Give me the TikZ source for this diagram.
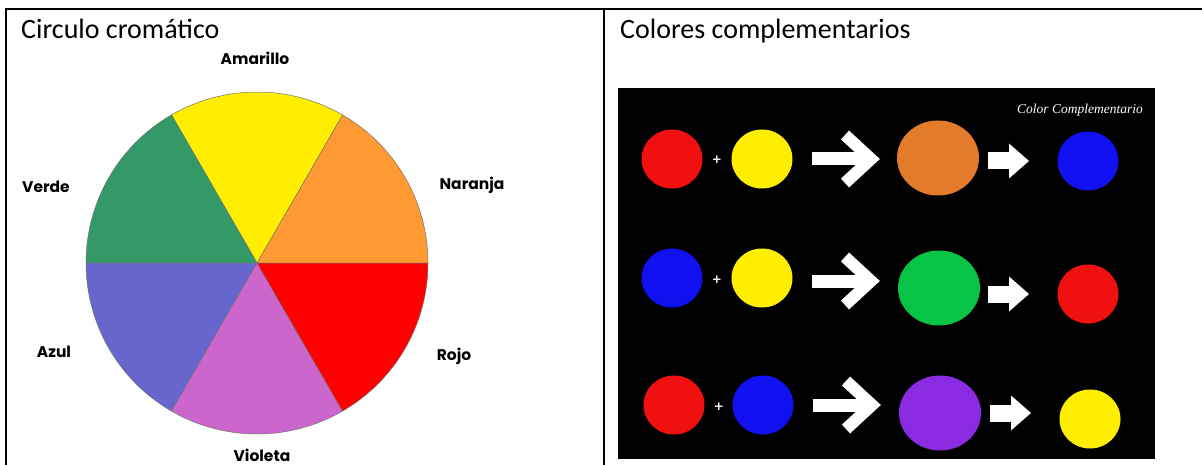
\documentclass[tikz,border=0pt]{standalone}
\usepackage{fontspec}
\usetikzlibrary{shapes.geometric}
\newfontfamily\hdrfont{Carlito}
\newfontfamily\lblfont{Poppins}
\newfontfamily\ttlfont{Liberation Serif}
\newfontfamily\plusfont{DejaVu Sans}
\definecolor{wYellow}{HTML}{FFEE00}
\definecolor{wOrange}{HTML}{FF9A33}
\definecolor{wGreen}{HTML}{339966}
\definecolor{wBlue}{HTML}{6666CC}
\definecolor{wViolet}{HTML}{CC66CC}
\definecolor{wRed}{HTML}{FF0000}
\definecolor{cRed}{HTML}{F01010}
\definecolor{cYellow}{HTML}{FFEE00}
\definecolor{cOrange}{HTML}{E47B2B}
\definecolor{cBlue}{HTML}{1010F0}
\definecolor{cGreen}{HTML}{08C444}
\definecolor{cPurple}{HTML}{8A2BE2}
\tikzset{
  rule/.style={line width=2.2pt, black},
  header/.style={anchor=base west, inner sep=0pt, font=\hdrfont\fontsize{28}{30}\selectfont},
  wedge/.style={draw=black!55, line width=0.5pt},
  wlabel/.style={inner sep=0pt, font=\lblfont\bfseries\fontsize{15.5}{16}\selectfont},
  disc/.style={ellipse, inner sep=0pt, draw=none},
  small/.style={disc, minimum width=61pt, minimum height=59pt},
  big/.style={disc, minimum width=82pt, minimum height=75pt},
  plus/.style={text=white, inner sep=0pt, font=\plusfont\bfseries\fontsize{12}{12}\selectfont},
  pics/chevron/.style={code={
    \draw[white, line width=13pt, line cap=butt] (0,0) -- (57,0);
    \draw[white, line width=12pt, line join=miter, line cap=butt] (33,-24) -- (59,0) -- (33,24);
  }},
  pics/blockarrow/.style={code={
    \fill[white] (0,-8.5) rectangle (22,8.5);
    \fill[white] (21,-17.5) -- (41,0) -- (21,17.5) -- cycle;
  }}
}
\begin{document}
\begin{tikzpicture}[x=1pt,y=-1pt]
\useasboundingbox (0,0) rectangle (1202,465);
\fill[white] (0,0) rectangle (1202,465);
% table rules
\coordinate (tl) at (6,9);
\coordinate (tr) at (1202,9);
\coordinate (bl) at (6,465);
\coordinate (mt) at (604,9);
\coordinate (mb) at (604,465);
\draw[rule] (5,9) -- (tr);
\draw[rule] (tl) -- (bl);
\draw[rule] (mt) -- (mb);
% headers
\node[header] (h1) at (21,39) {Circulo cromático};
\node[header] (h2) at (620,39) {Colores complementarios};
% colour wheel
\coordinate (c) at (257,263);
\foreach \a/\b/\col in {0/60/wOrange, 60/120/wYellow, 120/180/wGreen, 180/240/wBlue, 240/300/wViolet, 300/360/wRed}{
  \filldraw[wedge, fill=\col] (c) -- ++(-\a:171) arc[start angle=-\a, end angle=-\b, radius=171] -- cycle;
}
\node[wlabel] (lAm) at (255,58) {Amarillo};
\node[wlabel] (lVe) at (46,187) {Verde};
\node[wlabel] (lNa) at (472,185) {Naranja};
\node[wlabel] (lAz) at (54,352) {Azul};
\node[wlabel] (lRo) at (454,356) {Rojo};
\node[wlabel] (lVi) at (262,455) {Violeta};
% complementary colours picture
\fill[black] (618,88) rectangle (1155,459);
\node[text=white, inner sep=0pt, font=\ttlfont\itshape\fontsize{13.5}{14}\selectfont] (ttl) at (1080,110) {Color Complementario};
% row 1
\node[small, fill=cRed] (r1a) at (672,159) {};
\node[plus] (r1p) at (717,160) {+};
\node[small, fill=cYellow] (r1b) at (762,159) {};
\pic at (812,159) {chevron};
\node[big, fill=cOrange] (r1c) at (938,158) {};
\pic at (988,161) {blockarrow};
\node[small, fill=cBlue] (r1d) at (1088,161) {};
% row 2
\node[small, fill=cBlue] (r2a) at (672,278) {};
\node[plus] (r2p) at (717,280) {+};
\node[small, fill=cYellow] (r2b) at (762,278) {};
\pic at (812,281) {chevron};
\node[big, fill=cGreen] (r2c) at (939,288) {};
\pic at (988,294) {blockarrow};
\node[small, fill=cRed] (r2d) at (1088,294) {};
% row 3
\node[small, fill=cRed] (r3a) at (674,405) {};
\node[plus] (r3p) at (719,407) {+};
\node[small, fill=cBlue] (r3b) at (763,405) {};
\pic at (813,405) {chevron};
\node[big, fill=cPurple] (r3c) at (940,413) {};
\pic at (990,413) {blockarrow};
\node[small, fill=cYellow] (r3d) at (1090,419) {};
\end{tikzpicture}
\end{document}
